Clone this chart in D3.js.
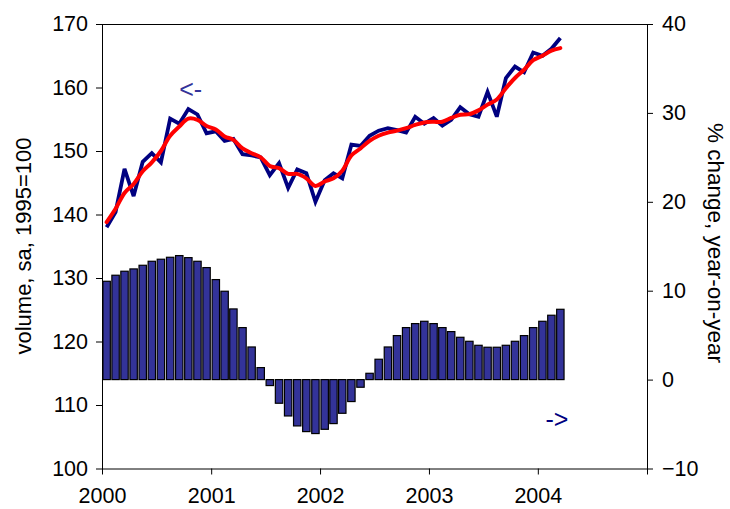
<!DOCTYPE html>
<html>
<head>
<meta charset="utf-8">
<script src="https://cdn.jsdelivr.net/npm/d3@7"></script>
<style>
  html, body { margin: 0; padding: 0; background: #fff; }
  svg { display: block; }
  text { font-family: "Liberation Sans", Arial, sans-serif; }
</style>
</head>
<body>
<svg id="chart" width="730" height="509"></svg>
<script>
// ---- data ----
const startMonth = new Date(2000, 0, 1);
const endMonth = new Date(2004, 3, 1); // exclusive: Jan 2000 .. Mar 2004
const volume = [138.0, 140.4, 147.2, 142.9, 148.3, 149.65, 148.2, 155.1, 154.3, 156.6,
  155.75, 152.8, 153.1, 151.6, 151.9, 149.5, 149.3, 149.0, 146.2, 148.1,
  144.2, 147.1, 146.5, 142.0, 145.4, 146.5, 145.7, 151.0, 150.8, 152.4,
  153.2, 153.6, 153.3, 152.9, 155.4, 154.3, 155.2, 154.0, 154.9, 156.9,
  155.8, 155.4, 159.3, 155.4, 161.5, 163.3, 162.4, 165.5, 165.0, 166.1, 167.8];
const trend = [138.8, 140.9, 143.4, 144.8, 146.8, 148.2, 150.0, 152.4, 153.85, 155.1,
  154.9, 153.95, 153.4, 152.3, 151.75, 150.4, 149.65, 149.0, 147.65, 147.3,
  146.4, 146.4, 145.7, 144.5, 145.2, 145.7, 146.9, 149.3, 150.4, 151.6,
  152.4, 152.9, 153.2, 153.6, 154.1, 154.5, 154.6, 154.6, 155.2, 155.7,
  155.8, 156.4, 157.3, 158.1, 159.9, 161.5, 162.8, 164.3, 165.0, 165.8, 166.2];
const yoyChange = [11.06, 11.74, 12.19, 12.45, 12.86, 13.31, 13.54, 13.76, 13.95, 13.72,
  13.31, 12.6, 11.25, 9.94, 7.95, 5.85, 3.67, 1.35, -0.67, -2.66,
  -4.09, -5.21, -5.85, -6.07, -5.59, -4.95, -3.79, -2.47, -0.86, 0.71,
  2.29, 3.67, 4.95, 5.85, 6.3, 6.56, 6.3, 5.85, 5.4, 4.76,
  4.31, 3.86, 3.64, 3.64, 3.86, 4.31, 4.95, 5.85, 6.56, 7.24, 7.91];
const xTickYears = [2000, 2001, 2002, 2003, 2004, 2005];
const xTickLabels = ["2000", "2001", "2002", "2003", "2004", ""];
const leftTicks = [100, 110, 120, 130, 140, 150, 160, 170];
const rightTicks = [-10, 0, 10, 20, 30, 40];
const leftTitle = "volume, sa, 1995=100";
const rightTitle = "% change, year-on-year";
const leftArrow = "<-";
const rightArrow = "->";

// ---- layout ----
const L = 102, R = 647, T = 24, B = 468.5;
const fontSize = 21.5;
const svg = d3.select("#chart");

const months = d3.timeMonth.range(startMonth, endMonth);
const x = d3.scaleTime()
  .domain([new Date(xTickYears[0], 0, 1), new Date(xTickYears[xTickYears.length - 1], 0, 1)])
  .range([L, R]);
const yL = d3.scaleLinear().domain([100, 170]).range([B, T]);
const yR = d3.scaleLinear().domain([-10, 40]).range([B, T]);
const mid = d => (x(d) + x(d3.timeMonth.offset(d, 1))) / 2;
const monthW = x(new Date(2000, 1, 1)) - x(new Date(2000, 0, 1));

const rows = months.map((d, i) => ({ d, v: volume[i], t: trend[i], c: yoyChange[i] }));

// bars
const bw = monthW * 0.8;
svg.append("g").selectAll("rect").data(rows).join("rect")
  .attr("x", r => mid(r.d) - bw / 2)
  .attr("width", bw)
  .attr("y", r => yR(Math.max(0, r.c)))
  .attr("height", r => Math.abs(yR(r.c) - yR(0)))
  .attr("fill", "#333399")
  .attr("stroke", "#000")
  .attr("stroke-width", 1.2);

// lines
svg.append("path").datum(rows)
  .attr("fill", "none").attr("stroke", "#000080").attr("stroke-width", 3.8)
  .attr("stroke-linejoin", "miter").attr("stroke-miterlimit", 3)
  .attr("d", d3.line().x(r => mid(r.d)).y(r => yL(r.v)));
svg.append("path").datum(rows)
  .attr("fill", "none").attr("stroke", "#ff0000").attr("stroke-width", 4)
  .attr("stroke-linejoin", "round").attr("stroke-linecap", "round")
  .attr("d", d3.line().curve(d3.curveCatmullRom.alpha(0.5)).x(r => mid(r.d)).y(r => yL(r.t)));

// axes
const axStyle = g => {
  g.select(".domain").attr("stroke", "#000").attr("stroke-width", 1);
  g.selectAll(".tick line").attr("stroke", "#000").attr("stroke-width", 1);
  g.selectAll("text").attr("font-size", fontSize).attr("fill", "#000")
    .attr("font-family", '"Liberation Sans", Arial, sans-serif');
};
svg.append("g").attr("transform", `translate(${L},0)`)
  .call(d3.axisLeft(yL).tickValues(leftTicks).tickSize(6).tickSizeOuter(0).tickPadding(8))
  .call(axStyle);
svg.append("g").attr("transform", `translate(${R},0)`)
  .call(d3.axisRight(yR).tickValues(rightTicks).tickSize(6).tickSizeOuter(0).tickPadding(9).tickFormat(d3.format("d")))
  .call(axStyle);
svg.append("g").attr("transform", `translate(0,${B})`)
  .call(d3.axisBottom(x).tickValues(xTickYears.map(y => new Date(y, 0, 1))).tickSize(6).tickSizeOuter(0).tickPadding(13)
    .tickFormat((d, i) => xTickLabels[i]))
  .call(axStyle);
// top frame
svg.append("line").attr("x1", L).attr("x2", R).attr("y1", T + 0.5).attr("y2", T + 0.5)
  .attr("stroke", "#000").attr("stroke-width", 1);

// titles
svg.append("text").attr("transform", `translate(31,246) rotate(-90)`)
  .attr("text-anchor", "middle").attr("font-size", 22).text(leftTitle);
svg.append("text").attr("transform", `translate(708,243) rotate(90)`)
  .attr("text-anchor", "middle").attr("font-size", 22.5).text(rightTitle);

// arrows
svg.append("text").attr("x", x(new Date(2000, 7, 20)) + 8).attr("y", 97.5)
  .attr("font-size", 25).attr("fill", "#333399").text(leftArrow);
svg.append("text").attr("x", x(new Date(2004, 0, 20)) + 2).attr("y", 427.5)
  .attr("font-size", 25).attr("fill", "#000080").text(rightArrow);
</script>
</body>
</html>
